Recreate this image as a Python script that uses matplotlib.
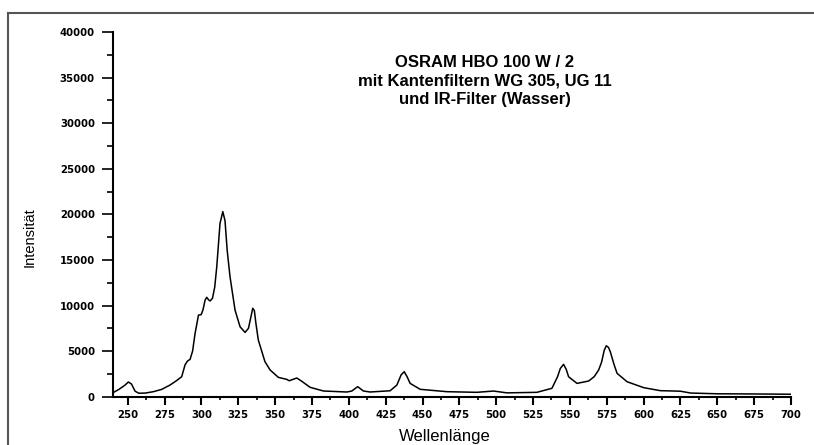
import matplotlib
matplotlib.use("Agg")
import matplotlib.pyplot as plt
from matplotlib.lines import Line2D
from matplotlib.ticker import MultipleLocator

# spectrum
wellenlaenge = [240, 244, 248, 250.4, 252.5, 255, 257.5, 262, 267.4, 273, 278.7, 283,
                286.6, 288.9, 290.5, 292.3, 294, 295.7, 298, 299.8, 301, 302.5, 303.6,
                305, 305.9, 307.5, 309, 310.4, 312.6, 314.5, 316, 317.5, 319.4, 322.8,
                326.2, 329.6, 331.9, 333.5, 334.8, 335.9, 337, 338.6, 343.1, 346.6,
                352.2, 357.9, 359.5, 364.7, 368, 373.7, 382.8, 398.6, 402, 406, 409.9,
                414.4, 428, 432.6, 435.5, 437.6, 439.5, 441.6, 448.4, 466.5, 486.8,
                498.2, 507.3, 527.6, 537.8, 541.6, 543.5, 545.7, 547.5, 549.1, 554.8,
                562.7, 566.5, 569.5, 571.5, 573.3, 574.7, 576.2, 577.4, 580, 582,
                588.8, 600.1, 611.4, 620.4, 625, 632, 650, 675, 700]
intensitaet = [440, 800, 1250, 1610, 1400, 600, 380, 400, 550, 800, 1280, 1750,
               2190, 3500, 3900, 4100, 5000, 6950, 8950, 9000, 9500, 10600, 10900,
               10600, 10500, 10800, 12000, 14250, 19000, 20300, 19300, 16000, 13150, 9500,
               7670, 7050, 7500, 8700, 9700, 9450, 8000, 6210, 3840, 2930,
               2120, 1900, 1750, 2050, 1700, 1030, 625, 515, 620, 1100, 625,
               515, 650, 1280, 2400, 2740, 2200, 1460, 810, 550, 480,
               620, 420, 480, 920, 2190, 3100, 3550, 3000, 2190, 1460,
               1720, 2200, 2930, 3800, 5100, 5590, 5400, 4930, 3500, 2560,
               1640, 990, 660, 625, 600, 400, 320, 300, 270]

titel = "OSRAM HBO 100 W / 2\nmit Kantenfiltern WG 305, UG 11\nund IR-Filter (Wasser)"

plt.rcParams['font.family'] = ['Liberation Sans', 'DejaVu Sans']

fig = plt.figure(figsize=(8.14, 4.45), dpi=100)
ax = fig.add_axes([113 / 814, 1 - 396.7 / 445, 678 / 814, 364.7 / 445])

ax.plot(wellenlaenge, intensitaet, color='black', lw=1.1)

ax.set_xlim(240, 700)
ax.set_ylim(0, 40000)
ax.xaxis.set_minor_locator(MultipleLocator(12.5))
ax.yaxis.set_major_locator(MultipleLocator(5000))
ax.yaxis.set_minor_locator(MultipleLocator(2500))
ax.set_xticks(range(250, 701, 25))

for s in ['top', 'right']:
    ax.spines[s].set_visible(False)
for s in ['left', 'bottom']:
    ax.spines[s].set_linewidth(1.5)

ax.tick_params(axis='x', which='major', direction='out', length=5.5, width=1.5, pad=4)
ax.tick_params(axis='x', which='minor', direction='out', length=2.5, width=1.2)
ax.tick_params(axis='y', which='major', direction='out', length=8, width=1.2, pad=5)
ax.tick_params(axis='y', which='minor', direction='out', length=4, width=1.2)
for lab in ax.get_xticklabels() + ax.get_yticklabels():
    lab.set_fontsize(7.3)
    lab.set_fontweight('bold')
    lab.set_family('DejaVu Sans')

fig.text(485 / 814, 1 - 81 / 445, titel, ha='center', va='center',
         fontsize=12, fontweight='bold', linespacing=1.32)
fig.text(445 / 814, 1 - 436 / 445, "Wellenlänge", ha='center', va='center', fontsize=12)
fig.text(30 / 814, 1 - 237 / 445, "Intensität", ha='center', va='center',
         rotation=90, fontsize=10.5)

# outer frame (only top and left edge visible)
fig.add_artist(Line2D([8 / 814, 1], [1 - 13 / 445] * 2, color='#555555', lw=1.5,
                      transform=fig.transFigure))
fig.add_artist(Line2D([8 / 814] * 2, [0, 1 - 13 / 445], color='#555555', lw=1.5,
                      transform=fig.transFigure))

fig.savefig("out.png", dpi=100)
